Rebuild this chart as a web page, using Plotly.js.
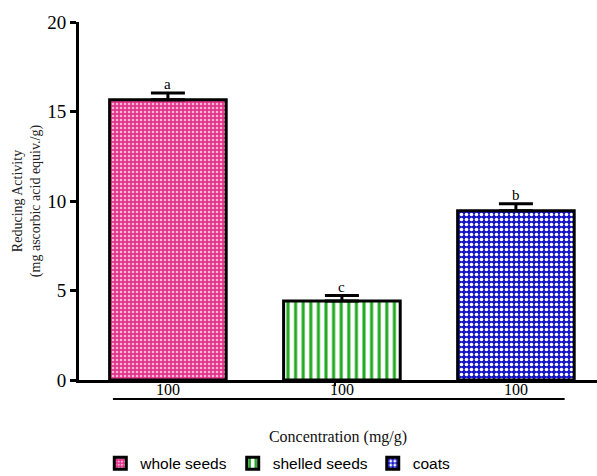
<!DOCTYPE html>
<html>
<head>
<meta charset="utf-8">
<script src="https://cdn.plot.ly/plotly-3.0.1.min.js"></script>
<style>html,body{margin:0;padding:0;background:#fff;}#chart{width:597px;height:476px;}</style>
</head>
<body>
<div id="chart"></div>
<script>
// Data
const seriesNames = ["whole seeds", "shelled seeds", "coats"];
const tickLabels = ["100", "100", "100"];
const meanValues = [15.65, 4.42, 9.45];
const errorValues = [0.38, 0.3, 0.4];
const letters = ["a", "c", "b"];

const styles = [
  {color: "#E2338A", pattern: {shape: ".", fgcolor: "#F9B4D6", bgcolor: "#E2338A", size: 4, solidity: 0.35}},
  {color: "#ffffff", pattern: {shape: "|", fgcolor: "#1FAA1F", bgcolor: "#ffffff", size: 7.6, solidity: 0.4}},
  {color: "#1515C8", pattern: {shape: ".", fgcolor: "#ffffff", bgcolor: "#1515C8", size: 5, solidity: 0.4}}
];

const positions = seriesNames.map((_, i) => i);

const traces = seriesNames.map((name, i) => ({
  type: "bar",
  name: name,
  x: [positions[i]],
  y: [meanValues[i]],
  width: 0.67,
  marker: {
    color: styles[i].color,
    pattern: styles[i].pattern,
    line: {color: "#000", width: 3}
  },
  error_y: {
    type: "data", symmetric: false,
    array: [errorValues[i]], arrayminus: [0],
    color: "#000", thickness: 3, width: 17
  },
  hoverinfo: "none"
}));

const annotations = letters.map((t, i) => ({
  x: positions[i], y: meanValues[i] + errorValues[i],
  xref: "x", yref: "y",
  text: t, showarrow: false, yanchor: "bottom", yshift: -1,
  font: {family: "Liberation Serif", size: 15, color: "#000"}
}));

const layout = {
  width: 597, height: 476,
  margin: {l: 79, r: 0, t: 22, b: 96},
  paper_bgcolor: "#fff", plot_bgcolor: "#fff",
  barmode: "overlay",
  showlegend: true,
  legend: {
    orientation: "h", xref: "container", yref: "container",
    x: 0.168, xanchor: "left", y: 0.026, yanchor: "middle",
    font: {family: "Liberation Sans", size: 15.5, color: "#000"},
    traceorder: "normal", itemwidth: 30
  },
  xaxis: {
    range: [-0.511, 2.466],
    tickvals: positions, ticktext: tickLabels,
    ticks: "", showgrid: false, zeroline: false,
    ticklabelstandoff: -7,
    showline: true, linecolor: "#000", linewidth: 3,
    tickfont: {family: "Liberation Serif", size: 16, color: "#000"},
    title: {text: "Concentration (mg/g)", standoff: 34,
            font: {family: "Liberation Serif", size: 16, color: "#111"}},
    fixedrange: true
  },
  yaxis: {
    range: [0, 20], tickvals: [0, 5, 10, 15, 20],
    ticks: "outside", ticklen: 6, tickwidth: 3, tickcolor: "#000",
    showgrid: false, zeroline: false,
    showline: true, linecolor: "#000", linewidth: 3,
    tickfont: {family: "Liberation Serif", size: 19, color: "#000"},
    title: {text: "Reducing Activity<br>(mg ascorbic acid equiv./g)", standoff: 4,
            font: {family: "Liberation Serif", size: 14, color: "#222"}},
    fixedrange: true
  },
  shapes: [
    {type: "line", xref: "x", yref: "paper", x0: -0.316, x1: 2.28, y0: -0.053, y1: -0.053,
     line: {color: "#000", width: 2}},
    {type: "line", xref: "x", yref: "paper", x0: positions[1] - 0.04, x1: positions[1] - 0.04, y0: 0, y1: -0.017,
     line: {color: "#000", width: 2}}
  ],
  annotations: annotations
};

Plotly.newPlot("chart", traces, layout, {staticPlot: true, displayModeBar: false});
</script>
</body>
</html>
